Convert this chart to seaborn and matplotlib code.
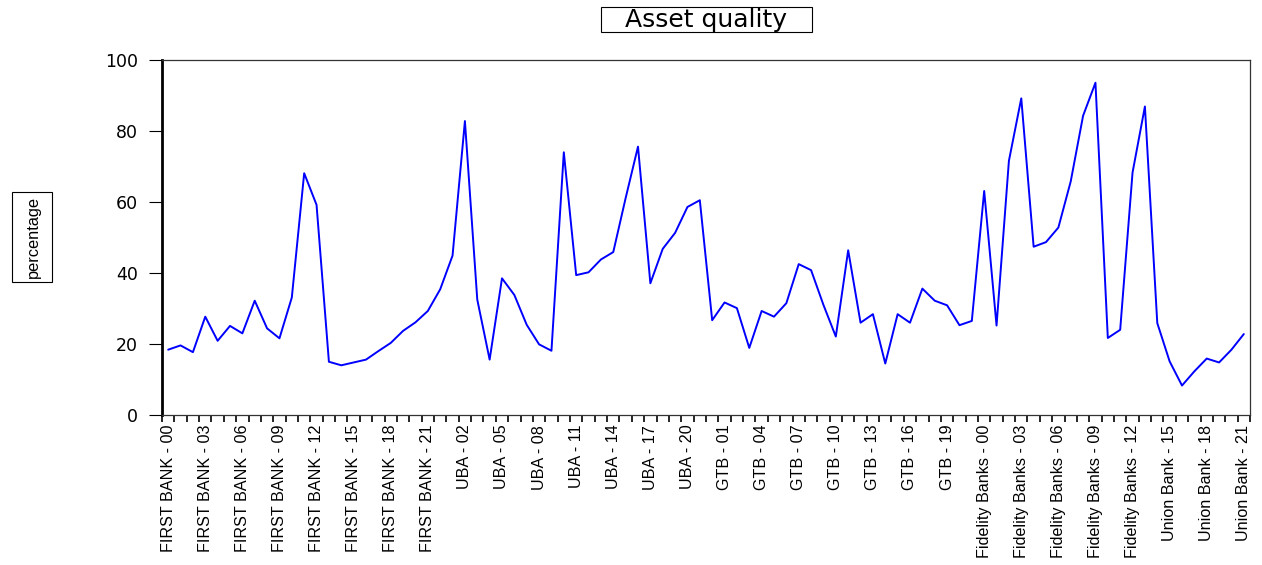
import numpy as np
import pandas as pd
import matplotlib
matplotlib.use("Agg")
import matplotlib.pyplot as plt
import seaborn as sns
from matplotlib.ticker import FixedLocator
from matplotlib.patches import Rectangle

# asset quality (%), by bank and year
first_bank = [18.4, 19.6, 17.7, 27.7, 20.9, 25.1, 23.0, 32.2, 24.4, 21.6, 33.1,
              68.1, 59.2, 15.0, 14.0, 14.8, 15.6, 18.0, 20.3, 23.7, 26.1, 29.3]
uba = [35.4, 44.9, 82.8, 32.5, 15.6, 38.5, 33.8, 25.4, 19.9, 18.1, 74.0,
       39.4, 40.2, 43.8, 45.9, 61.1, 75.6, 37.1, 46.8, 51.3, 58.6, 60.5]
gtb = [26.7, 31.7, 30.1, 18.9, 29.3, 27.7, 31.5, 42.5, 40.8, 31.0, 22.1,
       46.4, 26.0, 28.4, 14.5, 28.4, 26.0, 35.6, 32.2, 30.9, 25.3, 26.5]
fidelity = [63.1, 25.2, 71.6, 89.2, 47.4, 48.7, 52.8, 65.8, 84.3, 93.6, 21.7, 24.0, 68.3]
union = [86.9, 25.9, 15.1, 8.3, 12.3, 15.9, 14.8, 18.4, 22.8]

banks = ["FIRST BANK", "UBA", "GTB", "Fidelity Banks", "Union Bank"]
first_years = [0, 0, 0, 0, 13]
series = [first_bank, uba, gtb, fidelity, union]

labels = []
values = []
for name, y0, vals in zip(banks, first_years, series):
    for k, v in enumerate(vals):
        labels.append(name + " - " + "{:02d}".format(y0 + k))
        values.append(v)

df = pd.DataFrame({"obs": np.arange(len(values)), "label": labels, "value": values})

sns.set_style("white")
plt.rcParams["text.color"] = "black"
W, H = 1262, 565
fig = plt.figure(figsize=(W/100, H/100), dpi=100)
ax = fig.add_axes([162/W, 1-415/H, (1250-162)/W, (415-60)/H])

sns.lineplot(data=df, x="obs", y="value", color="#0000ff", linewidth=1.4, ax=ax)

n = len(df)
ax.set_xlim(-0.5, n - 0.5)
ax.set_ylim(0, 100)
ax.set_yticks([0, 20, 40, 60, 80, 100])
ax.set_yticklabels(["0", "20", "40", "60", "80", "100"], fontsize=12.5, family="DejaVu Sans")
ax.tick_params(axis="y", direction="out", length=9.5, width=0.8, pad=8, left=True,
               colors="black", labelcolor="black")

major = df.obs[::3]
ax.set_xticks(major)
ax.set_xticklabels(df.label[::3], rotation=90, fontsize=11.6, family="Liberation Sans")
ax.xaxis.set_minor_locator(FixedLocator(np.arange(n + 1) - 0.5))
ax.tick_params(axis="x", which="major", length=0, pad=7, labelcolor="black")
ax.tick_params(axis="x", which="minor", direction="out", length=5, width=1.2, bottom=True, color="black")

for s in ["top", "right", "bottom"]:
    ax.spines[s].set_linewidth(0.9)
    ax.spines[s].set_color("#333333")
ax.spines["left"].set_linewidth(2)
ax.spines["left"].set_color("black")

ax.set_xlabel("")
ax.set_ylabel("")

# boxed title and y label, as in the original
fig.patches.append(Rectangle((601/W, 1-32/H), 211/W, 25/H, transform=fig.transFigure,
                             facecolor="white", edgecolor="black", linewidth=0.8))
fig.text(706/W, 1-20/H, "Asset quality", ha="center", va="center", fontsize=18,
         family="DejaVu Sans", color="black")
fig.patches.append(Rectangle((12/W, 1-282/H), 40/W, 90/H, transform=fig.transFigure,
                             facecolor="white", edgecolor="black", linewidth=0.8))
fig.text(33/W, 1-237/H, "percentage", ha="center", va="center", rotation=90, fontsize=11.8,
         family="Liberation Sans", color="black")

fig.savefig("out.png", dpi=100)
